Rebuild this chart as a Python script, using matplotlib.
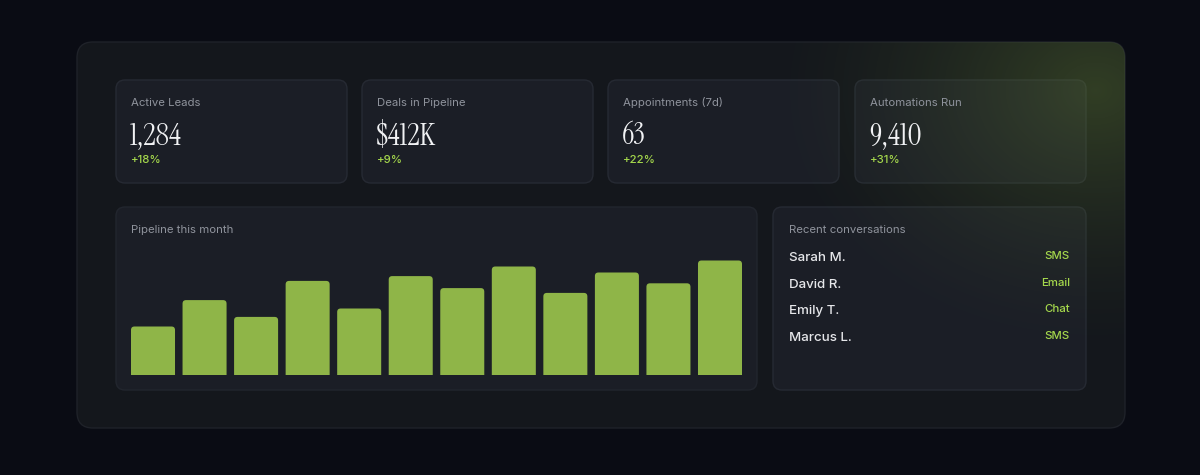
import numpy as np
import matplotlib
matplotlib.use("Agg")
import matplotlib.pyplot as plt
from matplotlib.patches import FancyBboxPatch

# KPI cards
kpi_labels = ["Active Leads", "Deals in Pipeline", "Appointments (7d)", "Automations Run"]
kpi_values = ["1,284", "$412K", "63", "9,410"]
kpi_changes = ["+18%", "+9%", "+22%", "+31%"]

# pipeline bars (percent of max)
pipeline = [40, 62, 48, 78, 55, 82, 72, 90, 68, 85, 76, 95]

# conversations
names = ["Sarah M.", "David R.", "Emily T.", "Marcus L."]
channels = ["SMS", "Email", "Chat", "SMS"]

BG = "#0a0c14"
PANEL = "#14171c"
CARD = "#1b1e26"
LABEL = "#8f939c"
WHITE = "#f1f2f4"
LIME = "#a5d84c"
BAR = "#8fb548"

W, H = 1200, 475
fig = plt.figure(figsize=(W / 100, H / 100), dpi=100, facecolor=BG)
bg = fig.add_axes([0, 0, 1, 1])
bg.set_xlim(0, W)
bg.set_ylim(H, 0)
bg.axis("off")


def card(x0, y0, x1, y1, r, fc, ec, z=1):
    p = FancyBboxPatch((x0, y0), x1 - x0, y1 - y0,
                       boxstyle=f"round,pad=0,rounding_size={r}",
                       fc=fc, ec=ec, lw=1, zorder=z)
    bg.add_patch(p)
    return p


panel = card(77, 42, 1125, 428, 16, PANEL, "#1f2229", 1)

sans = ["Inter", "DejaVu Sans"]
serif = ["Instrument Serif", "Liberation Serif"]

card_x = [116, 362, 608, 855]
for i in range(4):
    x0 = card_x[i]
    card(x0, 80, x0 + 231, 183, 9, CARD, "#262a33", 3)
    bg.text(x0 + 15, 103, kpi_labels[i], color=LABEL, fontsize=8.2,
            family=sans, va="center", zorder=5)
    bg.text(x0 + 14, 136, kpi_values[i], color=WHITE, fontsize=22,
            family=serif, va="center", zorder=5)
    bg.text(x0 + 15, 160, kpi_changes[i], color=LIME, fontsize=8.2,
            family=sans, fontweight="medium", va="center", zorder=5)

# bottom cards
card(116, 207, 757, 390, 9, CARD, "#22262e", 3)
card(773, 207, 1086, 390, 9, CARD, "#262a33", 3)

# green glow top right, laid over panel and cards
yy, xx = np.mgrid[0:H, 0:W]
d = np.sqrt((xx - 1095) ** 2 + ((yy - 90) / 0.8) ** 2)
a = np.clip(1 - d / 340, 0, 1) ** 1.5 * 0.36
glow = np.zeros((H, W, 4))
glow[..., 0] = 0.40
glow[..., 1] = 0.52
glow[..., 2] = 0.20
glow[..., 3] = a
im = bg.imshow(glow, extent=(0, W, H, 0), zorder=4, interpolation="bilinear")
im.set_clip_path(panel)
bg.set_xlim(0, W)
bg.set_ylim(H, 0)

bg.text(131, 230, "Pipeline this month", color=LABEL, fontsize=8.2,
        family=sans, va="center", zorder=5)
bg.text(789, 230, "Recent conversations", color=LABEL, fontsize=8.2,
        family=sans, va="center", zorder=5)

row_y = [258, 285, 311, 338]
for n, c, y in zip(names, channels, row_y):
    bg.text(789, y, n, color="#e6e7ea", fontsize=9.6, family=sans,
            fontweight="medium", va="center", zorder=5)
    bg.text(1070, y - 2, c, color=LIME, fontsize=8.2, family=sans,
            fontweight="medium", va="center", ha="right", zorder=5)

# bar chart axes
ax_l, ax_r = 131, 742
ax_b, ax_t = 374.5, 254.5
ax = fig.add_axes([ax_l / W, (H - ax_b) / H, (ax_r - ax_l) / W, (ax_b - ax_t) / H])
ax.set_facecolor("none")
ax.axis("off")
bw = 0.854
xs = np.arange(len(pipeline))
bars = ax.bar(xs, pipeline, width=bw, color=BAR)
ax.set_xlim(-bw / 2, len(pipeline) - 1 + bw / 2)
ax.set_ylim(0, 100)
# round the top corners
px_x = (ax_r - ax_l) / (len(pipeline) - 1 + bw)
px_y = (ax_b - ax_t) / 100
rad = 3.5 / px_x
for b in bars:
    b.set_visible(False)
    p = FancyBboxPatch((b.get_x(), b.get_y() - 10), b.get_width(), b.get_height() + 10,
                       boxstyle=f"round,pad=0,rounding_size={rad}",
                       mutation_aspect=px_x / px_y, fc=BAR, ec="none")
    ax.add_patch(p)

fig.savefig("out.png", dpi=100, facecolor=BG)
